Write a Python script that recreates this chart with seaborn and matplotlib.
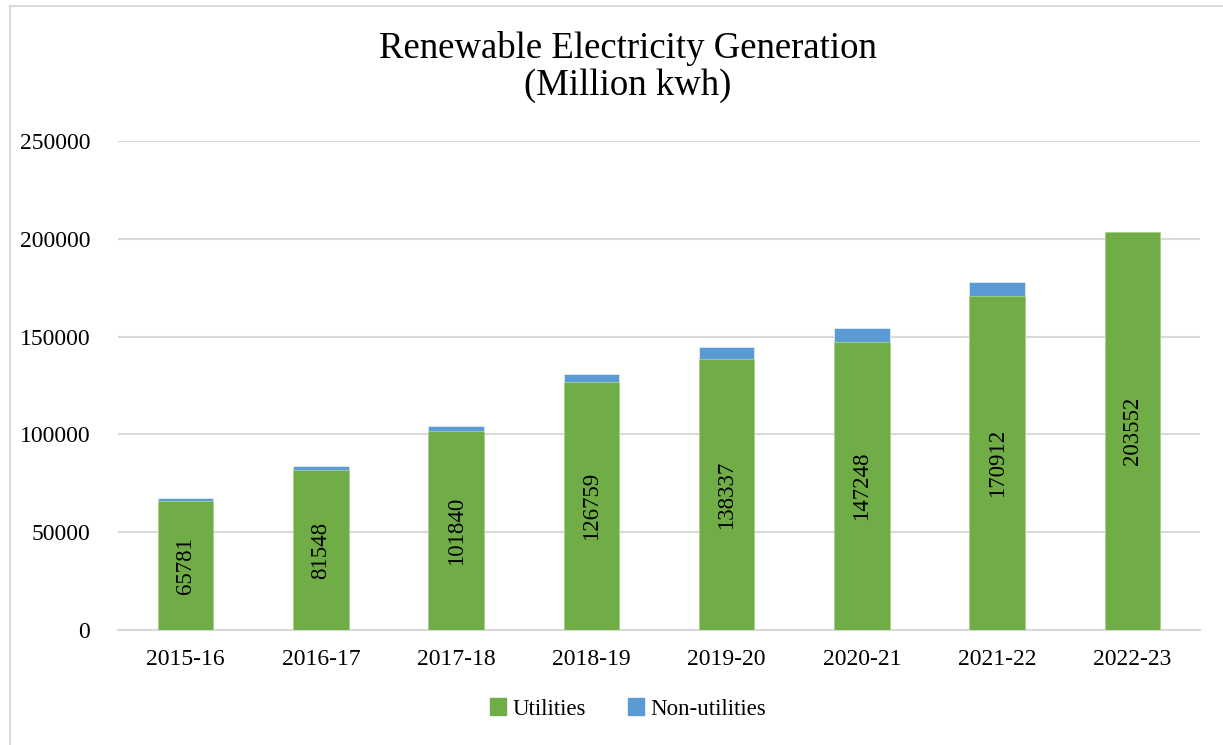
import matplotlib
matplotlib.use("Agg")
import matplotlib.pyplot as plt
import matplotlib.patches as mpatches
import seaborn as sns
import pandas as pd

years = ["2015-16", "2016-17", "2017-18", "2018-19", "2019-20", "2020-21", "2021-22", "2022-23"]
utilities = [65781, 81548, 101840, 126759, 138337, 147248, 170912, 203552]
non_utilities = [1700, 2400, 2300, 4000, 6100, 7300, 6800, 0]

GREEN = "#70AD47"
BLUE = "#5B9BD5"
GRID = "#D9D9D9"

sns.set_theme(style="white")
plt.rcParams["font.family"] = ["Liberation Serif", "DejaVu Serif"]
plt.rcParams["text.color"] = "black"
plt.rcParams["xtick.color"] = "black"
plt.rcParams["ytick.color"] = "black"

df = pd.DataFrame({"year": years, "utilities": utilities, "non_utilities": non_utilities})
df["total"] = df["utilities"] + df["non_utilities"]

W, H = 1223, 745
fig = plt.figure(figsize=(W / 100, H / 100), dpi=100)
ax = fig.add_axes([118 / W, (H - 630) / H, 1082 / W, 489 / H])

sns.barplot(data=df, x="year", y="total", color=BLUE, saturation=1, width=0.41, ax=ax,
            zorder=3, edgecolor="#DDEBF7", linewidth=0.6)
sns.barplot(data=df, x="year", y="utilities", color=GREEN, saturation=1, width=0.41, ax=ax,
            zorder=3, edgecolor="#A9D18E", linewidth=0.6)

green_container = ax.containers[1]
ax.bar_label(green_container, labels=[str(v) for v in utilities], label_type="center",
             rotation=90, fontsize=16.5, color="black")

ax.set_ylim(0, 250000)
ax.set_xlim(-0.5, len(years) - 0.5)
ax.set_yticks(range(0, 250001, 50000))
ax.set_yticklabels([str(v) for v in range(0, 250001, 50000)])
ax.yaxis.grid(True, color=GRID, linewidth=1.5, zorder=0)
ax.set_axisbelow(True)
for s in ["top", "right", "left"]:
    ax.spines[s].set_visible(False)
ax.spines["bottom"].set_color(GRID)
ax.spines["bottom"].set_linewidth(1.5)
ax.tick_params(axis="both", length=0, labelsize=17, colors="black")
ax.tick_params(axis="x", pad=14)
ax.tick_params(axis="y", pad=20)
ax.set_xlabel("")
ax.set_ylabel("")

fig.text(628 / W, 1 - 67 / H, "Renewable Electricity Generation\n(Million kwh)",
         ha="center", va="center", fontsize=26.5, linespacing=1.1, color="black")

handles = [mpatches.Patch(color=GREEN, label="Utilities"),
           mpatches.Patch(color=BLUE, label="Non-utilities")]
fig.legend(handles=handles, loc="center", bbox_to_anchor=(628 / W, 1 - 709 / H),
           ncol=2, frameon=False, fontsize=16.5, handlelength=0.7, handleheight=0.7,
           handletextpad=0.3, columnspacing=1.8, labelcolor="black")

# outer chart border (left and top visible)
border = mpatches.Rectangle((9.5 / W, -0.05), 1.2, 1 - 5.5 / H + 0.05, transform=fig.transFigure,
                            fill=False, edgecolor=GRID, linewidth=1.5)
fig.patches.append(border)

fig.savefig("out.png", dpi=100)
